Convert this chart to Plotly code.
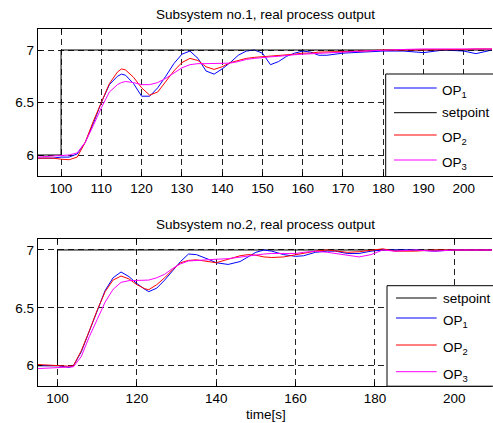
import plotly.graph_objects as go

W, H = 493, 423

# ---------------- data ----------------
setpoint_t = [90, 100, 100, 215]
setpoint_v = [6, 6, 7, 7]

t_top = [94, 98, 100, 102, 104, 106, 108, 110, 112, 114, 115, 116, 118, 120, 122, 124, 126, 128,
         130, 132, 134, 136, 138, 140, 142, 144, 146, 148, 150, 152, 154, 156, 158, 160, 162, 164,
         166, 168, 170, 175, 180, 185, 190, 195, 200, 203, 207]
op1_top = [5.97, 5.97, 5.98, 5.98, 6.01, 6.12, 6.30, 6.50, 6.67, 6.75, 6.77, 6.76, 6.68, 6.56, 6.56, 6.64,
           6.75, 6.87, 6.96, 6.99, 6.92, 6.80, 6.77, 6.82, 6.88, 6.95, 6.99, 7.00, 6.97, 6.86, 6.89, 6.94,
           6.97, 6.99, 6.98, 6.95, 6.95, 6.96, 6.97, 6.98, 6.99, 6.99, 6.975, 7.00, 6.99, 6.965, 7.00]
op2_top = [5.97, 5.97, 5.96, 5.955, 5.98, 6.12, 6.32, 6.50, 6.68, 6.79, 6.82, 6.81, 6.74, 6.64, 6.57, 6.60,
           6.70, 6.80, 6.88, 6.92, 6.90, 6.84, 6.815, 6.84, 6.88, 6.90, 6.92, 6.93, 6.935, 6.94, 6.945, 6.95,
           6.96, 6.97, 6.97, 6.98, 6.98, 6.98, 6.985, 6.99, 7.00, 7.00, 7.00, 7.005, 7.005, 7.01, 7.01]
op3_top = [5.98, 5.99, 6.00, 6.00, 6.02, 6.12, 6.28, 6.45, 6.60, 6.67, 6.69, 6.70, 6.69, 6.67, 6.67, 6.69,
           6.73, 6.78, 6.83, 6.86, 6.87, 6.87, 6.87, 6.87, 6.875, 6.89, 6.91, 6.92, 6.93, 6.935, 6.94, 6.95,
           6.955, 6.96, 6.965, 6.97, 6.975, 6.98, 6.98, 6.99, 7.00, 7.005, 7.01, 7.01, 7.01, 7.01, 7.01]

t_bot = [95, 100, 103, 104, 106, 108, 110, 112, 114, 116, 118, 120, 122, 123, 125, 127, 129, 131, 133,
         135, 138, 140, 143, 146, 148, 150, 152, 154, 157, 160, 162, 165, 168, 170, 173, 176, 179, 182,
         185, 190, 195, 200, 210]
op1_bot = [6.00, 6.00, 5.985, 6.00, 6.12, 6.30, 6.48, 6.65, 6.76, 6.81, 6.77, 6.71, 6.66, 6.64, 6.67, 6.74,
           6.82, 6.90, 6.965, 6.96, 6.92, 6.89, 6.875, 6.90, 6.94, 6.98, 7.00, 6.99, 6.96, 6.945, 6.95, 6.98,
           6.99, 6.99, 6.97, 6.97, 6.99, 7.00, 7.00, 7.00, 6.99, 7.00, 7.00]
op2_bot = [6.01, 6.00, 5.995, 6.00, 6.13, 6.30, 6.48, 6.64, 6.74, 6.775, 6.75, 6.70, 6.665, 6.657, 6.70, 6.76,
           6.83, 6.89, 6.91, 6.915, 6.90, 6.89, 6.92, 6.95, 6.96, 6.955, 6.94, 6.935, 6.94, 6.96, 6.975, 6.99,
           7.00, 6.99, 6.98, 6.985, 6.995, 7.01, 6.99, 6.99, 7.00, 7.00, 7.00]
op3_bot = [5.975, 5.98, 5.985, 5.99, 6.08, 6.25, 6.40, 6.55, 6.66, 6.72, 6.735, 6.735, 6.735, 6.74, 6.76, 6.79,
           6.84, 6.88, 6.905, 6.91, 6.92, 6.92, 6.925, 6.94, 6.95, 6.96, 6.965, 6.97, 6.97, 6.97, 6.98, 6.99,
           6.98, 6.97, 6.95, 6.94, 6.96, 7.00, 6.99, 7.00, 6.99, 7.00, 7.00]

titles = ["Subsystem no.1, real process output", "Subsystem no.2, real process output"]
xlabel = "time[s]"
yticks = [6, 6.5, 7]
xticks_top = list(range(100, 201, 10))
xticks_bot = list(range(100, 201, 20))

BLUE, RED, MAG, BLK = "#0000ff", "#ff0000", "#ff00ff", "#000000"
FONT = "Liberation Sans, Arial, Helvetica, sans-serif"
FS = 13.5


def px(x):
    return x / W


def py(y):
    return 1 - y / H


fig = go.Figure()

# top subplot
fig.add_trace(go.Scatter(x=t_top, y=op1_top, mode="lines", line=dict(color=BLUE, width=1), xaxis="x", yaxis="y"))
fig.add_trace(go.Scatter(x=setpoint_t, y=setpoint_v, mode="lines", line=dict(color=BLK, width=1), xaxis="x", yaxis="y"))
fig.add_trace(go.Scatter(x=t_top, y=op2_top, mode="lines", line=dict(color=RED, width=1), xaxis="x", yaxis="y"))
fig.add_trace(go.Scatter(x=t_top, y=op3_top, mode="lines", line=dict(color=MAG, width=1), xaxis="x", yaxis="y"))
# bottom subplot
fig.add_trace(go.Scatter(x=setpoint_t, y=setpoint_v, mode="lines", line=dict(color=BLK, width=1), xaxis="x2", yaxis="y2"))
fig.add_trace(go.Scatter(x=t_bot, y=op1_bot, mode="lines", line=dict(color=BLUE, width=1), xaxis="x2", yaxis="y2"))
fig.add_trace(go.Scatter(x=t_bot, y=op2_bot, mode="lines", line=dict(color=RED, width=1), xaxis="x2", yaxis="y2"))
fig.add_trace(go.Scatter(x=t_bot, y=op3_bot, mode="lines", line=dict(color=MAG, width=1), xaxis="x2", yaxis="y2"))

axcommon = dict(showline=True, linecolor=BLK, linewidth=1, ticks="inside", ticklen=4, tickcolor=BLK,
                showgrid=True, gridcolor="#222", gridwidth=1, griddash="6px,4px", zeroline=False,
                tickfont=dict(family=FONT, size=FS, color=BLK))

X0, X1 = 37.7, 492.0
fig.update_layout(
    width=W, height=H, margin=dict(l=0, r=0, t=0, b=0),
    paper_bgcolor="white", plot_bgcolor="white", showlegend=False,
    xaxis=dict(domain=[px(X0), px(X1)], range=[94.2, 207.0], tickvals=xticks_top, mirror="ticks",
               anchor="y", **axcommon),
    yaxis=dict(domain=[py(176), py(29)], range=[5.8, 7.2], tickvals=yticks, ticktext=["6", "6.5", "7"],
               anchor="x", **axcommon),
    xaxis2=dict(domain=[px(X0), px(X1)], range=[95.0, 209.5], tickvals=xticks_bot, mirror="ticks",
                anchor="y2", **axcommon),
    yaxis2=dict(domain=[py(385.7), py(239)], range=[5.827, 7.095], tickvals=yticks, ticktext=["6", "6.5", "7"],
                anchor="x2", **axcommon),
)

ann = []
shapes = []
ann.append(dict(text=titles[0], x=px(265.3), y=py(14), xref="paper", yref="paper", showarrow=False,
                xanchor="center", yanchor="middle", font=dict(family=FONT, size=FS, color=BLK)))
ann.append(dict(text=titles[1], x=px(265.3), y=py(224), xref="paper", yref="paper", showarrow=False,
                xanchor="center", yanchor="middle", font=dict(family=FONT, size=FS, color=BLK)))
ann.append(dict(text=xlabel, x=px(266), y=py(414), xref="paper", yref="paper", showarrow=False,
                xanchor="center", yanchor="middle", font=dict(family=FONT, size=FS, color=BLK)))


def legend(box_left, box_top, box_bottom, entries, lx0, lx1, tx):
    shapes.append(dict(type="rect", xref="paper", yref="paper", x0=px(box_left), x1=px(W + 5),
                       y0=py(box_bottom), y1=py(box_top), fillcolor="white", line=dict(color=BLK, width=1),
                       layer="above"))
    for label, color, yy, sub in entries:
        shapes.append(dict(type="line", xref="paper", yref="paper", x0=px(lx0), x1=px(lx1), y0=py(yy), y1=py(yy),
                           line=dict(color=color, width=1), layer="above"))
        ann.append(dict(text=label, x=px(tx), y=py(yy + (3.5 if sub else 0)), xref="paper", yref="paper",
                        showarrow=False, xanchor="left", yanchor="middle",
                        font=dict(family=FONT, size=FS, color=BLK)))


legend(385.7, 74, 176.5,
       [("OP<sub>1</sub>", BLUE, 88, True), ("setpoint", BLK, 112.7, False),
        ("OP<sub>2</sub>", RED, 135, True), ("OP<sub>3</sub>", MAG, 160, True)],
       394, 436.7, 440)
legend(387, 285.7, 386.2,
       [("setpoint", BLK, 298, False), ("OP<sub>1</sub>", BLUE, 318, True),
        ("OP<sub>2</sub>", RED, 345, True), ("OP<sub>3</sub>", MAG, 371.7, True)],
       396, 436.7, 441)

fig.update_layout(annotations=ann, shapes=shapes)
fig.write_html("out.html")
